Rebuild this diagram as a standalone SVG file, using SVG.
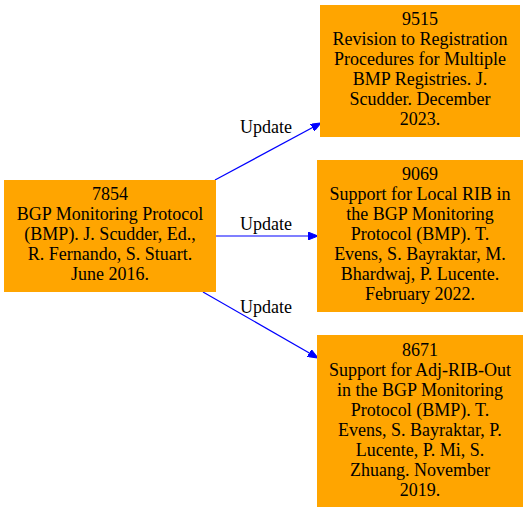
<svg xmlns="http://www.w3.org/2000/svg" width="528" height="512" viewBox="0 0 528 512">
<style>
.box{fill:#ffa500;stroke:#ffa500;}
text{font-family:"Liberation Serif","Times New Roman",Times,serif;font-size:18px;fill:#000;text-anchor:middle;}
.e{stroke:#0000ff;stroke-width:1.2;fill:none;}
</style>
<defs>
<marker id="ah" markerWidth="10" markerHeight="8" refX="10" refY="4" orient="auto" markerUnits="userSpaceOnUse">
<path d="M0,0 L10,4 L0,8 Z" fill="#0000ff" stroke="#0000ff"/>
</marker>
</defs>
<rect width="528" height="512" fill="#fff"/>
<g id="connectors" font-family="Liberation Serif, serif">
<path class="e" d="M215,180 L321,123" marker-end="url(#ah)"/>
<path class="e" d="M216,236 L318,236" marker-end="url(#ah)"/>
<path class="e" d="M203,292 L318,358" marker-end="url(#ah)"/>
<text x="266" y="133">Update</text>
<text x="266" y="230">Update</text>
<text x="266" y="313">Update</text>
</g>
<g id="n7854" font-family="Liberation Serif, serif">
<rect class="box" x="4.5" y="180.5" width="211" height="111"/>
<text x="110" y="200">7854</text>
<text x="110" y="220">BGP Monitoring Protocol</text>
<text x="110" y="240">(BMP). J. Scudder, Ed.,</text>
<text x="110" y="260">R. Fernando, S. Stuart.</text>
<text x="110" y="280">June 2016.</text>
</g>
<g id="n9515" font-family="Liberation Serif, serif">
<rect class="box" x="320.5" y="5.5" width="199" height="131"/>
<text x="420" y="25">9515</text>
<text x="420" y="45">Revision to Registration</text>
<text x="420" y="65">Procedures for Multiple</text>
<text x="420" y="85">BMP Registries. J.</text>
<text x="420" y="105">Scudder. December</text>
<text x="420" y="125">2023.</text>
</g>
<g id="n9069" font-family="Liberation Serif, serif">
<rect class="box" x="317.5" y="160.5" width="205" height="151"/>
<text x="420" y="180">9069</text>
<text x="420" y="200">Support for Local RIB in</text>
<text x="420" y="220">the BGP Monitoring</text>
<text x="420" y="240">Protocol (BMP). T.</text>
<text x="420" y="260">Evens, S. Bayraktar, M.</text>
<text x="420" y="280">Bhardwaj, P. Lucente.</text>
<text x="420" y="300">February 2022.</text>
</g>
<g id="n8671" font-family="Liberation Serif, serif">
<rect class="box" x="317.5" y="335.5" width="205" height="171"/>
<text x="420" y="356">8671</text>
<text x="420" y="376">Support for Adj-RIB-Out</text>
<text x="420" y="396">in the BGP Monitoring</text>
<text x="420" y="416">Protocol (BMP). T.</text>
<text x="420" y="436">Evens, S. Bayraktar, P.</text>
<text x="420" y="456">Lucente, P. Mi, S.</text>
<text x="420" y="476">Zhuang. November</text>
<text x="420" y="496">2019.</text>
</g>
</svg>
